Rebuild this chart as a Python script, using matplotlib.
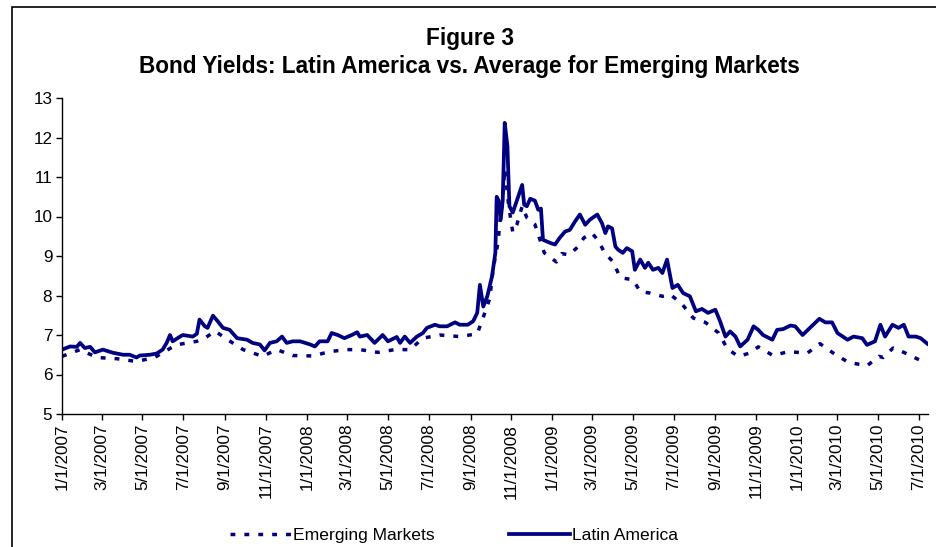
import matplotlib
matplotlib.use("Agg")
import matplotlib.pyplot as plt
import matplotlib.dates as mdates
import matplotlib.ticker as mticker
import pandas as pd
from matplotlib.patches import Rectangle

plt.rcParams["font.family"] = ["Liberation Sans", "DejaVu Sans"]

# Latin America bond yields (%)
la_dates = [
    "2007-01-01", "2007-01-13", "2007-01-23", "2007-01-28", "2007-02-04", "2007-02-12",
    "2007-02-19", "2007-03-03", "2007-03-18", "2007-04-02", "2007-04-12", "2007-04-22",
    "2007-04-27", "2007-05-12", "2007-05-22", "2007-05-31", "2007-06-06", "2007-06-11",
    "2007-06-15", "2007-06-26", "2007-06-30", "2007-07-15", "2007-07-21", "2007-07-25",
    "2007-08-02", "2007-08-06", "2007-08-14", "2007-08-21", "2007-08-29", "2007-09-08",
    "2007-09-19", "2007-10-04", "2007-10-12", "2007-10-23", "2007-10-30", "2007-11-07",
    "2007-11-17", "2007-11-25", "2007-12-02", "2007-12-11", "2007-12-22", "2008-01-06",
    "2008-01-13", "2008-01-20", "2008-02-01", "2008-02-07", "2008-02-16", "2008-02-26",
    "2008-03-08", "2008-03-16", "2008-03-20", "2008-03-31", "2008-04-11", "2008-04-23",
    "2008-05-01", "2008-05-14", "2008-05-19", "2008-05-26", "2008-06-03", "2008-06-13",
    "2008-06-22", "2008-06-28", "2008-07-10", "2008-07-17", "2008-07-28", "2008-08-09",
    "2008-08-16", "2008-08-28", "2008-09-05", "2008-09-11", "2008-09-15", "2008-09-20",
    "2008-09-26", "2008-10-03", "2008-10-08", "2008-10-10", "2008-10-13", "2008-10-16",
    "2008-10-19", "2008-10-22", "2008-10-26", "2008-10-29", "2008-11-03", "2008-11-11",
    "2008-11-17", "2008-11-20", "2008-11-24", "2008-11-29", "2008-12-06", "2008-12-11",
    "2008-12-15", "2008-12-18", "2008-12-29", "2009-01-05", "2009-01-12", "2009-01-20",
    "2009-01-27", "2009-02-04", "2009-02-11", "2009-02-19", "2009-02-26", "2009-03-09",
    "2009-03-16", "2009-03-21", "2009-03-25", "2009-03-31", "2009-04-05", "2009-04-09",
    "2009-04-16", "2009-04-22", "2009-04-30", "2009-05-04", "2009-05-12", "2009-05-19",
    "2009-05-24", "2009-05-31", "2009-06-08", "2009-06-14", "2009-06-21", "2009-06-29",
    "2009-07-07", "2009-07-15", "2009-07-25", "2009-08-03", "2009-08-12", "2009-08-21",
    "2009-09-01", "2009-09-08", "2009-09-16", "2009-09-23", "2009-10-01", "2009-10-08",
    "2009-10-19", "2009-10-28", "2009-11-04", "2009-11-11", "2009-11-25", "2009-12-02",
    "2009-12-11", "2009-12-22", "2009-12-29", "2010-01-09", "2010-01-20", "2010-02-03",
    "2010-02-12", "2010-02-22", "2010-03-02", "2010-03-17", "2010-03-26", "2010-04-08",
    "2010-04-15", "2010-04-27", "2010-05-05", "2010-05-12", "2010-05-23", "2010-06-01",
    "2010-06-09", "2010-06-16", "2010-06-27", "2010-07-04", "2010-07-14",
]
la_values = [
    6.63, 6.71, 6.70, 6.80, 6.67, 6.70,
    6.56, 6.63, 6.55, 6.50, 6.50, 6.43,
    6.48, 6.50, 6.53, 6.63, 6.80, 7.00,
    6.84, 6.96, 7.00, 6.96, 7.03, 7.39,
    7.22, 7.18, 7.49, 7.35, 7.18, 7.13,
    6.92, 6.88, 6.80, 6.76, 6.61, 6.80,
    6.84, 6.96, 6.80, 6.84, 6.84, 6.76,
    6.71, 6.84, 6.84, 7.05, 7.00, 6.92,
    7.00, 7.07, 6.96, 7.00, 6.80, 7.00,
    6.84, 6.95, 6.80, 6.96, 6.80, 6.96,
    7.05, 7.18, 7.26, 7.22, 7.22, 7.32,
    7.26, 7.26, 7.35, 7.56, 8.27, 7.72,
    7.98, 8.48, 9.08, 10.50, 10.40, 9.92,
    10.40, 12.37, 11.78, 10.26, 10.10, 10.50,
    10.80, 10.30, 10.26, 10.45, 10.40, 10.17,
    10.20, 9.41, 9.33, 9.29, 9.46, 9.62,
    9.66, 9.88, 10.05, 9.79, 9.92, 10.05,
    9.83, 9.58, 9.75, 9.70, 9.24, 9.16,
    9.08, 9.20, 9.12, 8.65, 8.91, 8.70,
    8.83, 8.65, 8.70, 8.57, 8.91, 8.19,
    8.27, 8.06, 7.98, 7.60, 7.66, 7.56,
    7.64, 7.35, 6.96, 7.09, 6.96, 6.71,
    6.88, 7.22, 7.13, 7.00, 6.88, 7.13,
    7.15, 7.24, 7.22, 7.00, 7.18, 7.41,
    7.32, 7.32, 7.05, 6.88, 6.96, 6.92,
    6.75, 6.84, 7.26, 6.96, 7.26, 7.18,
    7.26, 6.96, 6.96, 6.92, 6.78,
]

# Average for emerging markets (%)
em_dates = [
    "2007-01-01", "2007-01-28", "2007-02-22", "2007-03-24", "2007-04-22", "2007-05-19",
    "2007-06-20", "2007-07-21", "2007-08-02", "2007-08-17", "2007-09-05", "2007-09-28",
    "2007-10-27", "2007-11-17", "2007-12-11", "2008-01-10", "2008-02-04", "2008-03-01",
    "2008-03-20", "2008-04-16", "2008-05-11", "2008-06-03", "2008-06-22", "2008-07-17",
    "2008-08-16", "2008-09-11", "2008-09-20", "2008-09-30", "2008-10-03", "2008-10-08",
    "2008-10-12", "2008-10-15", "2008-10-18", "2008-10-22", "2008-10-28", "2008-11-03",
    "2008-11-09", "2008-11-17", "2008-11-24", "2008-12-06", "2008-12-20", "2009-01-07",
    "2009-01-15", "2009-01-26", "2009-02-08", "2009-02-17", "2009-03-01", "2009-03-10",
    "2009-03-21", "2009-04-02", "2009-04-11", "2009-04-16", "2009-05-01", "2009-05-12",
    "2009-05-27", "2009-06-14", "2009-06-26", "2009-07-12", "2009-07-30", "2009-08-17",
    "2009-09-06", "2009-09-19", "2009-10-05", "2009-10-22", "2009-11-04", "2009-11-26",
    "2009-12-19", "2010-01-16", "2010-02-04", "2010-02-24", "2010-03-18", "2010-04-15",
    "2010-05-03", "2010-05-09", "2010-05-24", "2010-06-09", "2010-07-02", "2010-07-14",
]
em_values = [
    6.46, 6.63, 6.43, 6.40, 6.33, 6.43,
    6.75, 6.84, 6.92, 7.10, 6.88, 6.63,
    6.46, 6.63, 6.48, 6.47, 6.58, 6.63,
    6.63, 6.56, 6.63, 6.63, 6.92, 7.00,
    6.96, 7.03, 7.45, 7.94, 8.45, 8.99,
    9.34, 9.90, 10.26, 11.20, 10.26, 9.60,
    9.79, 10.26, 9.97, 9.80, 9.08, 8.85,
    9.06, 9.03, 9.23, 9.46, 9.58, 9.40,
    9.05, 8.85, 8.49, 8.44, 8.40, 8.10,
    8.06, 7.98, 8.02, 7.81, 7.43, 7.32,
    7.05, 6.65, 6.46, 6.54, 6.70, 6.48,
    6.58, 6.54, 6.78, 6.54, 6.31, 6.22,
    6.46, 6.43, 6.67, 6.56, 6.37, 6.35,
]

title_lines = ["Figure 3", "Bond Yields: Latin America vs. Average for Emerging Markets"]
series_names = ["Emerging Markets", "Latin America"]
y_ticks = [5, 6, 7, 8, 9, 10, 11, 12, 13]
x_start, x_end = "2007-01-01", "2010-07-15"

navy = "#000080"

fig = plt.figure(figsize=(9.36, 5.47), dpi=100)
ax = fig.add_axes([62 / 936, 1 - 414 / 547, (928 - 62) / 936, (414 - 98) / 547])

la_x = pd.to_datetime(la_dates)
em_x = pd.to_datetime(em_dates)

em_line, = ax.plot(em_x, em_values, color=navy, lw=2.5,
                   linestyle=(0, (1.4, 2.6)), dash_capstyle="butt",
                   label=series_names[0])
la_line, = ax.plot(la_x, la_values, color=navy, lw=2.7,
                   solid_joinstyle="round", label=series_names[1])

ax.set_xlim(pd.Timestamp(x_start), pd.Timestamp(x_end))
ax.set_ylim(5, 13)
ax.set_yticks(y_ticks)

ax.xaxis.set_major_locator(mdates.MonthLocator(bymonth=[1, 3, 5, 7, 9, 11], bymonthday=1))
ax.xaxis.set_major_formatter(
    mticker.FuncFormatter(
        lambda v, pos: (lambda d: f"{d.month}/{d.day}/{d.year}")(mdates.num2date(v))
    )
)

ax.tick_params(axis="both", direction="out", length=4, width=1, labelsize=12.3,
               colors="black")
ax.tick_params(axis="x", pad=3)
ax.tick_params(axis="y", pad=3)
plt.setp(ax.get_xticklabels(), rotation=90, ha="center", va="top")

for side in ("top", "right"):
    ax.spines[side].set_visible(False)
for side in ("left", "bottom"):
    ax.spines[side].set_linewidth(1.0)
    ax.spines[side].set_color("black")

fig.text(0.502, 1 - 38 / 547, title_lines[0], ha="center", va="center",
         fontsize=16.3, fontweight="bold")
fig.text(0.502, 1 - 67 / 547, title_lines[1], ha="center", va="center",
         fontsize=16.3, fontweight="bold")

fig.legend(handles=[em_line, la_line], loc="center", bbox_to_anchor=(0.485, 1 - 535 / 547),
           ncol=2, frameon=False, fontsize=12.6, handlelength=3.45,
           handletextpad=0.1, columnspacing=4.3, borderaxespad=0)

# outer frame of the figure
fig.patches.append(Rectangle((12 / 936, -0.2), 1.2, 1.2 - 7 / 547,
                             transform=fig.transFigure, fill=False,
                             edgecolor="black", linewidth=1.2))

fig.savefig("out.png", dpi=100)
